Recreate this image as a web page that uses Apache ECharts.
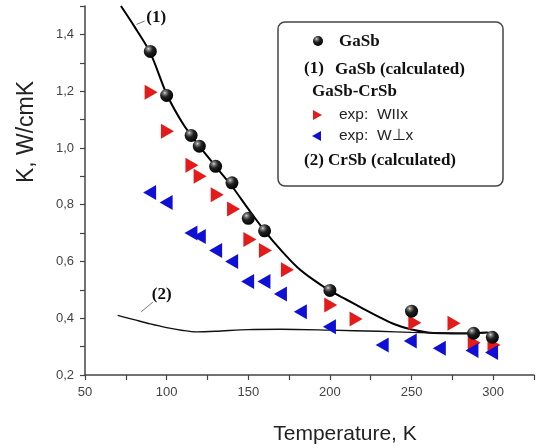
<!DOCTYPE html>
<html>
<head>
<meta charset="utf-8">
<script src="https://cdn.jsdelivr.net/npm/echarts@6/dist/echarts.min.js"></script>
<style>
  html, body { margin: 0; padding: 0; background: #fff; }
  #chart { width: 537px; height: 448px; }
</style>
</head>
<body>
<div id="chart"></div>
<script>
// GaSb, experiment (spheres)
const gasbT = [90, 100, 115, 120, 130, 140, 150, 160, 200, 250, 288, 299.5];
const gasbK = [1.34, 1.185, 1.044, 1.006, 0.935, 0.877, 0.752, 0.708, 0.498, 0.425, 0.347, 0.333];

// GaSb-CrSb, exp W||x (red, right triangles)
const parT = [90.5, 100.5, 115.5, 120.5, 131, 141, 151, 160.5, 174, 200.5, 216, 252, 276, 288.4, 300.5];
const parK = [1.196, 1.059, 0.939, 0.90, 0.835, 0.785, 0.677, 0.639, 0.571, 0.447, 0.397, 0.384, 0.382, 0.314, 0.306];

// GaSb-CrSb, exp W⊥x (blue, left triangles)
const perpT = [89.6, 99.7, 114.9, 120, 130, 139.8, 149.6, 159.6, 169.7, 181.9, 199.7, 232, 249.2, 267, 287, 299];
const perpK = [0.843, 0.808, 0.700, 0.688, 0.639, 0.600, 0.529, 0.529, 0.485, 0.423, 0.370, 0.306, 0.320, 0.294, 0.286, 0.279];

// (1) GaSb calculated
const calc1T = [72, 80, 90, 100, 110, 120, 130, 140, 150, 160, 170, 180, 190, 200, 210, 220, 230, 240, 250, 260, 270, 280, 290, 296, 300];
const calc1K = [1.50, 1.43, 1.335, 1.19, 1.085, 1.006, 0.935, 0.865, 0.785, 0.708, 0.64, 0.58, 0.535, 0.497, 0.466, 0.435, 0.405, 0.378, 0.36, 0.35, 0.347, 0.346, 0.347, 0.35, 0.337];

// (2) CrSb calculated
const calc2T = [70, 80, 90, 100, 110, 118, 130, 150, 170, 200, 230, 250, 270, 290, 298];
const calc2K = [0.41, 0.395, 0.38, 0.367, 0.357, 0.352, 0.354, 0.36, 0.361, 0.358, 0.354, 0.35, 0.348, 0.347, 0.35];

// curve labels: leader line start, end, text position (data coords)
const note1 = { text: '(1)', from: [81.5, 1.435], to: [86.5, 1.447], at: [93.6, 1.459] };
const note2 = { text: '(2)', from: [84.5, 0.423], to: [91.6, 0.457], at: [97, 0.484] };

const zip = (xs, ys) => xs.map((x, i) => [x, ys[i]]);

const RED = '#e31b1b';
const BLUE = '#1010d4';

const sphere = new echarts.graphic.RadialGradient(0.36, 0.3, 0.75, [
  { offset: 0, color: '#e0e0e0' },
  { offset: 0.15, color: '#808080' },
  { offset: 0.45, color: '#202020' },
  { offset: 1, color: '#000' }
]);

const chart = echarts.init(document.getElementById('chart'));

const option = {
  animation: false,
  backgroundColor: '#fff',
  grid: { left: 85, right: 0, top: 6, bottom: 73 },
  xAxis: {
    type: 'value',
    min: 50,
    max: 325,
    interval: 25,
    axisLine: { lineStyle: { color: '#444', width: 1.5 } },
    axisTick: { length: 5, lineStyle: { color: '#444', width: 1.2 } },
    splitLine: { show: false },
    axisLabel: {
      margin: 11,
      color: '#444',
      fontFamily: 'Arial, Liberation Sans, sans-serif',
      fontSize: 13,
      formatter: v => (v % 50 === 0 && v <= 300 ? String(v) : '')
    }
  },
  yAxis: {
    type: 'value',
    min: 0.2,
    max: 1.5,
    interval: 0.1,
    axisLine: { show: true, lineStyle: { color: '#444', width: 1.5 } },
    axisTick: { show: true, length: 5, lineStyle: { color: '#444', width: 1.2 } },
    splitLine: { show: false },
    axisLabel: {
      margin: 11,
      color: '#444',
      fontFamily: 'Arial, Liberation Sans, sans-serif',
      fontSize: 13,
      formatter: v => (Math.round(v * 10) % 2 === 0 ? v.toFixed(1).replace('.', ',') : '')
    }
  },
  series: [
    {
      name: 'GaSb (calculated)',
      type: 'line',
      data: zip(calc1T, calc1K),
      smooth: 0.3,
      showSymbol: false,
      lineStyle: { color: '#000', width: 2 },
      z: 1
    },
    {
      name: 'CrSb (calculated)',
      type: 'line',
      data: zip(calc2T, calc2K),
      smooth: 0.3,
      showSymbol: false,
      lineStyle: { color: '#111', width: 1.4 },
      z: 1
    },
    {
      name: 'exp: W||x',
      type: 'scatter',
      data: zip(parT, parK),
      symbol: 'triangle',
      symbolSize: [15, 13],
      symbolRotate: -90,
      itemStyle: { color: RED, opacity: 1 },
      z: 2
    },
    {
      name: 'exp: W⊥x',
      type: 'scatter',
      data: zip(perpT, perpK),
      symbol: 'triangle',
      symbolSize: [15, 13],
      symbolRotate: 90,
      itemStyle: { color: BLUE, opacity: 1 },
      z: 3
    },
    {
      name: 'GaSb',
      type: 'scatter',
      data: zip(gasbT, gasbK),
      symbol: 'circle',
      symbolSize: 13,
      itemStyle: { color: sphere, opacity: 1 },
      z: 4
    }
  ]
};

chart.setOption(option);

// axis names, legend box and curve notes
const serif = '"Liberation Serif", "Times New Roman", serif';
const sans = 'Arial, "Liberation Sans", sans-serif';
const px = p => chart.convertToPixel({ gridIndex: 0 }, p);

const noteGraphics = [note1, note2].flatMap(n => {
  const a = px(n.from), b = px(n.to), c = px(n.at);
  return [
    { type: 'line', shape: { x1: a[0], y1: a[1], x2: b[0], y2: b[1] }, style: { stroke: '#777', lineWidth: 1 } },
    { type: 'text', x: c[0], y: c[1], style: { text: n.text, font: 'bold 17px ' + serif, fill: '#111', align: 'center', verticalAlign: 'middle' } }
  ];
});

const legendGraphics = [
  { type: 'rect', shape: { x: 278, y: 22, width: 225, height: 164, r: 7 }, style: { fill: '#fff', stroke: '#444', lineWidth: 1.5 }, z: 10 },
  { type: 'circle', shape: { cx: 318, cy: 41, r: 5 }, style: { fill: sphere }, z: 11 },
  { type: 'text', x: 339, y: 42, style: { text: 'GaSb', font: 'bold 17px ' + serif, fill: '#111', verticalAlign: 'middle' }, z: 11 },
  { type: 'text', x: 304, y: 69, style: { text: '(1)', font: 'bold 17px ' + serif, fill: '#111', verticalAlign: 'middle' }, z: 11 },
  { type: 'text', x: 335, y: 70, style: { text: 'GaSb (calculated)', font: 'bold 17px ' + serif, fill: '#111', verticalAlign: 'middle' }, z: 11 },
  { type: 'text', x: 312, y: 92, style: { text: 'GaSb-CrSb', font: 'bold 17px ' + serif, fill: '#111', verticalAlign: 'middle' }, z: 11 },
  { type: 'polygon', shape: { points: [[313, 110], [322, 115], [313, 120]] }, style: { fill: RED }, z: 11 },
  { type: 'text', x: 339, y: 115, style: { text: 'exp:  WIIx', font: '15.5px ' + sans, fill: '#222', verticalAlign: 'middle' }, z: 11 },
  { type: 'polygon', shape: { points: [[321, 131], [312, 136], [321, 141]] }, style: { fill: BLUE }, z: 11 },
  { type: 'text', x: 339, y: 136, style: { text: 'exp:  W\u22A5x', font: '15.5px ' + sans, fill: '#222', verticalAlign: 'middle' }, z: 11 },
  { type: 'text', x: 304, y: 161, style: { text: '(2) CrSb (calculated)', font: 'bold 17px ' + serif, fill: '#111', verticalAlign: 'middle' }, z: 11 }
];

const axisNames = [
  { type: 'text', x: 27, y: 132, rotation: Math.PI / 2, style: { text: 'K, W/cmK', font: '23px ' + sans, fill: '#222', align: 'center', verticalAlign: 'middle' } },
  { type: 'text', x: 345, y: 434, style: { text: 'Temperature, K', font: '21px ' + sans, fill: '#222', align: 'center', verticalAlign: 'middle' } }
];

chart.setOption({ graphic: [...axisNames, ...noteGraphics, ...legendGraphics] });
</script>
</body>
</html>
